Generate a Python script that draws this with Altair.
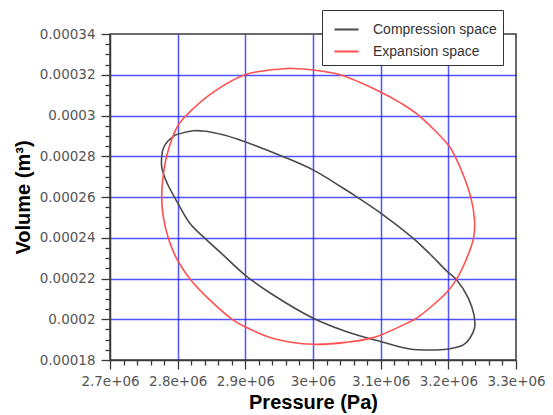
import altair as alt
import pandas as pd

# Compression space loop (pressure in Pa, volume in m^3), traced clockwise
comp_p = [2.7961e6, 2.8231e6, 2.8379e6, 2.8685e6, 2.8995e6, 2.9561e6,
          3.0000e6, 3.0448e6, 3.0646e6, 3.1005e6, 3.1482e6, 3.1729e6, 3.1976e6,
          3.2124e6, 3.2295e6, 3.2379e6, 3.2387e6, 3.2320e6, 3.2221e6, 3.2000e6,
          3.1729e6, 3.1433e6, 3.1005e6, 3.0498e6, 3.0004e6, 2.9413e6, 2.8995e6,
          2.8674e6, 2.8404e6, 2.8182e6, 2.7986e6, 2.7857e6,
          2.7791e6, 2.7764e6, 2.7764e6, 2.7788e6, 2.7857e6]
comp_v = [0.0002904, 0.0002925, 0.0002924, 0.0002904, 0.0002871, 0.0002798,
          0.0002733, 0.0002643, 0.0002601, 0.0002520, 0.0002397, 0.0002320, 0.0002237,
          0.0002193, 0.0002104, 0.0002021, 0.0001957, 0.0001908, 0.0001874, 0.0001854,
          0.0001849, 0.0001854, 0.0001890, 0.0001939, 0.0002005, 0.0002119, 0.0002217,
          0.0002315, 0.0002397, 0.0002470, 0.0002580, 0.0002659,
          0.0002713, 0.0002749, 0.0002796, 0.0002839, 0.0002875]

# Expansion space loop
exp_p = [2.9660e6, 3.0004e6, 3.0399e6, 3.0990e6, 3.1286e6, 3.1556e6, 3.2000e6,
         3.2098e6, 3.2330e6, 3.2387e6, 3.2372e6, 3.2261e6, 3.2124e6, 3.1995e6,
         3.1758e6, 3.1507e6, 3.1433e6, 3.1005e6, 3.0842e6, 3.0498e6, 3.0004e6,
         2.9413e6, 2.8995e6, 2.8822e6, 2.8478e6, 2.8182e6, 2.7995e6, 2.7862e6,
         2.7783e6, 2.7764e6, 2.7779e6, 2.7838e6, 2.7995e6, 2.8133e6, 2.8507e6,
         2.8995e6, 2.9364e6]
exp_v = [0.0003232, 0.0003223, 0.0003200, 0.0003117, 0.0003063, 0.0003002, 0.0002855,
         0.0002801, 0.0002601, 0.0002487, 0.0002397, 0.0002291, 0.0002198, 0.0002139,
         0.0002065, 0.0002000, 0.0001988, 0.0001923, 0.0001906, 0.0001887, 0.0001877,
         0.0001906, 0.0001963, 0.0001996, 0.0002094, 0.0002198, 0.0002291, 0.0002397,
         0.0002512, 0.0002610, 0.0002683, 0.0002801, 0.0002945, 0.0003002, 0.0003110,
         0.0003200, 0.0003223]

series = ["Compression space", "Expansion space"]
colors = ["#4a4a4a", "#ff5050"]

# Axis ranges; minor ticks every 2e4 Pa and 5e-6 m^3
x_min, x_max, x_minor = 2.7e6, 3.3e6, 2e4
y_min, y_max, y_minor = 0.00018, 0.00034, 0.000005
x_ticks = [round(x_min + i * x_minor) for i in range(int(round((x_max - x_min) / x_minor)) + 1)]
y_ticks = [round(y_min + i * y_minor, 9) for i in range(int(round((y_max - y_min) / y_minor)) + 1)]


def loop_frame(name, ps, vs):
    # repeat the first point so each loop closes
    ps = list(ps) + [ps[0]]
    vs = list(vs) + [vs[0]]
    return pd.DataFrame({"P": ps, "V": vs, "series": name, "i": range(len(ps))})


df = pd.concat([loop_frame(series[0], comp_p, comp_v),
                loop_frame(series[1], exp_p, exp_v)], ignore_index=True)

x_minor_test = "abs(datum.value/100000 - round(datum.value/100000)) > 0.01"
x_edge_test = x_minor_test + " || datum.value <= 2700001 || datum.value >= 3299999"
y_minor_test = "abs(datum.value*50000 - round(datum.value*50000)) > 0.01"
y_edge_test = y_minor_test + " || datum.value <= 0.0001801 || datum.value >= 0.0003399"

x_axis = alt.Axis(
    values=x_ticks,
    title="Pressure (Pa)",
    labelExpr=f"({x_minor_test}) ? '' : replace(format(datum.value, '~e'), 'e+', 'e+0')",
    tickSize={"condition": {"test": x_minor_test, "value": 5}, "value": 9},
    gridOpacity={"condition": {"test": x_edge_test, "value": 0}, "value": 0.75},
    labelOverlap=False,
    labelFlush=False,
    labelPadding=5,
    titlePadding=5,
)
y_axis = alt.Axis(
    values=y_ticks,
    title="Volume (m³)",
    labelExpr=f"({y_minor_test}) ? '' : format(datum.value, '~g')",
    tickSize={"condition": {"test": y_minor_test, "value": 5}, "value": 9},
    gridOpacity={"condition": {"test": y_edge_test, "value": 0}, "value": 0.75},
    labelOverlap=False,
    labelFlush=False,
    labelPadding=6,
    titlePadding=6,
)

chart = alt.Chart(df).mark_line(strokeWidth=1.6, interpolate="catmull-rom").encode(
    x=alt.X("P:Q", scale=alt.Scale(domain=[x_min, x_max], nice=False, zero=False), axis=x_axis),
    y=alt.Y("V:Q", scale=alt.Scale(domain=[y_min, y_max], nice=False, zero=False), axis=y_axis),
    color=alt.Color(
        "series:N",
        scale=alt.Scale(domain=series, range=colors),
        legend=alt.Legend(
            title=None,
            orient="none",
            legendX=212,
            legendY=-24,
            fillColor="white",
            strokeColor="#333333",
            padding=6,
            symbolOffset=5,
            symbolType="stroke",
            symbolSize=580,
            symbolStrokeWidth=2,
            labelFontSize=14,
            labelColor="#333333",
            labelFont="Liberation Sans",
            labelOffset=13,
            rowPadding=1,
        ),
    ),
    detail="series:N",
    order="i:Q",
).properties(
    width=406,
    height=326,
    autosize=alt.AutoSizeParams(type="none"),
    padding={"left": 110, "top": 34, "right": 37, "bottom": 55},
).configure_view(
    stroke="#3a3a3a", strokeWidth=1.5
).configure_axis(
    labelFont="DejaVu Sans",
    titleFont="Liberation Sans",
    labelFontSize=13.5,
    labelColor="#555555",
    titleFontSize=20,
    titleFontWeight="bold",
    titleColor="#000000",
    domainColor="#3a3a3a",
    domainWidth=1.5,
    tickColor="#3a3a3a",
    tickWidth=1.3,
    gridColor="#1a1aff",
    gridWidth=1.5,
)

chart.save("out.html", embed_options={"renderer": "svg", "actions": False})
